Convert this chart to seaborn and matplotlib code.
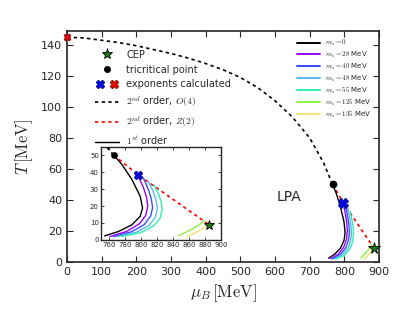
import numpy as np
import pandas as pd
import matplotlib
matplotlib.use("Agg")
import matplotlib.pyplot as plt
import seaborn as sns
from matplotlib.lines import Line2D
from matplotlib.legend_handler import HandlerTuple

sns.set_style("ticks")
plt.rcParams['font.family'] = ['DejaVu Sans']
plt.rcParams['mathtext.fontset'] = 'cm'
plt.rcParams['xtick.direction'] = 'in'
plt.rcParams['ytick.direction'] = 'in'

# ---- data ----
o4_mu = [0, 50, 100, 150, 200, 250, 300, 350, 400, 450, 500, 550, 600, 650, 700, 740, 766]
o4_T = [145, 144.5, 143, 141.5, 139.5, 137, 134.5, 131.5, 128, 124, 119, 112.5, 104, 93.5, 80, 64, 50]

z2_mu = [766, 796, 885]
z2_T = [50, 38.5, 9]

ms_labels = [r"$m_s=0$", r"$m_s=28$ MeV", r"$m_s=40$ MeV", r"$m_s=48$ MeV",
             r"$m_s=55$ MeV", r"$m_s=125$ MeV", r"$m_s=135$ MeV"]
ms_colors = ["black", "#9a00ff", "#3a4cff", "#5cb8f0", "#2ef0b0", "#8cf040", "#f4e070"]

fo_mu_0 = [766, 776, 788.6, 799, 802, 799, 788.6, 772, 754.6]
fo_T_0 = [50, 44.6, 35.7, 25.8, 18.8, 13.9, 8.9, 5.0, 2.4]
fo_mu_28 = [796, 803, 807, 808.5, 806, 798, 782, 761]
fo_T_28 = [38.1, 31, 25, 20, 14.5, 9.5, 5, 2]
fo_mu_40 = [803, 809, 813, 814.5, 812, 804, 788, 766]
fo_T_40 = [36.5, 30, 24, 19, 14, 9, 4.8, 2]
fo_mu_48 = [809, 815, 819, 820.5, 818, 810, 794, 771]
fo_T_48 = [34.6, 29, 23, 18.5, 13.5, 8.5, 4.5, 2]
fo_mu_55 = [816, 822, 825.5, 826.5, 824, 816, 800, 776]
fo_T_55 = [32.6, 27, 22, 18, 13, 8.3, 4.3, 2]
fo_mu_125 = [847, 856, 866, 874, 879]
fo_T_125 = [2.5, 4.5, 7, 9.3, 11.3]
fo_mu_135 = [857, 866, 874, 880, 884]
fo_T_135 = [2, 3.8, 5.8, 7.8, 9.5]

fo_mu = [fo_mu_0, fo_mu_28, fo_mu_40, fo_mu_48, fo_mu_55, fo_mu_125, fo_mu_135]
fo_T = [fo_T_0, fo_T_28, fo_T_40, fo_T_48, fo_T_55, fo_T_125, fo_T_135]

cep = (885, 9)
tcp = (766, 50)
exp_blue = (796, 38.1)
exp_red = (0, 145)

fig = plt.figure(figsize=(3.99, 3.10), dpi=100)
ax = fig.add_axes([0.168, 0.155, 0.782, 0.745])
axin = fig.add_axes([0.253, 0.226, 0.301, 0.301])


def draw(a, ms_scale=1.0, lw=1.0):
    sns.lineplot(x=o4_mu, y=o4_T, ax=a, color="black", sort=False, estimator=None,
                 linestyle=(0, (2, 2)), linewidth=1.2)
    sns.lineplot(x=z2_mu, y=z2_T, ax=a, color="red", sort=False, estimator=None,
                 linestyle=(0, (2, 2)), linewidth=1.2)
    for mu, T, c in zip(fo_mu, fo_T, ms_colors):
        sns.lineplot(x=mu, y=T, ax=a, color=c, sort=False, estimator=None, linewidth=lw)
    a.plot([tcp[0]], [tcp[1]], 'o', color='black', ms=4.5 * ms_scale, zorder=5)
    a.plot([exp_blue[0]], [exp_blue[1]], 'X', color='blue', mec='#1010a0', ms=6.5 * ms_scale, zorder=5)
    a.plot([exp_red[0]], [exp_red[1]], 'X', color='red', mec='#a01010', ms=5 * ms_scale, zorder=5, clip_on=False)
    a.plot([cep[0]], [cep[1]], '*', color='#1a7a1a', mec='black', mew=0.6, ms=8.5 * ms_scale, zorder=6, clip_on=False)


draw(ax, 1.0, 1.0)
ax.set_xlim(0, 900)
ax.set_ylim(0, 149)
ax.set_xticks(np.arange(0, 901, 100))
ax.set_yticks(np.arange(0, 141, 20))
ax.tick_params(labelsize=8, top=True, right=True, length=4, width=0.8)
ax.set_xlabel(r"$\mu_B\,[\mathrm{MeV}]$", fontsize=12)
ax.set_ylabel(r"$T\,[\mathrm{MeV}]$", fontsize=12)
for s in ax.spines.values():
    s.set_linewidth(1.2)
ax.text(641, 42, "LPA", fontsize=10, ha='center', va='center')

draw(axin, 0.85, 1.0)
axin.set_xlim(750, 900)
axin.set_ylim(0, 55)
axin.set_xticks(np.arange(760, 901, 20))
axin.set_yticks(np.arange(0, 51, 10))
axin.tick_params(labelsize=5, top=True, right=True, length=2.5, width=0.6, pad=1.5)
for s in axin.spines.values():
    s.set_linewidth(1.0)

# legend 1
h_cep = Line2D([], [], marker='*', color='#1a7a1a', mec='black', mew=0.6, ms=8, linestyle='None')
h_tcp = Line2D([], [], marker='o', color='black', ms=4, linestyle='None')
h_xb = Line2D([], [], marker='X', color='blue', mec='#1010a0', ms=6, linestyle='None')
h_xr = Line2D([], [], marker='X', color='red', mec='#a01010', ms=6, linestyle='None')
h_o4 = Line2D([], [], color='black', linestyle=(0, (2, 2)), linewidth=1.2)
h_z2 = Line2D([], [], color='red', linestyle=(0, (2, 2)), linewidth=1.2)
h_fo = Line2D([], [], color='black', linewidth=1.0)
leg1 = ax.legend([h_cep, h_tcp, (h_xb, h_xr), h_o4, h_z2, h_fo],
                 ["CEP", "tricritical point", "exponents calculated",
                  r"$2^{nd}$ order, $O(4)$", r"$2^{nd}$ order, $Z(2)$", r"$1^{st}$ order"],
                 handler_map={tuple: HandlerTuple(ndivide=None, pad=0.6)},
                 loc='upper left', bbox_to_anchor=(0.075, 0.94), frameon=False,
                 fontsize=7, handlelength=2.4, labelspacing=0.5, handletextpad=0.8, borderpad=0)
ax.add_artist(leg1)

hs = [Line2D([], [], color=c, linewidth=1.4) for c in ms_colors]
leg2 = ax.legend(hs, ms_labels, loc='upper left', bbox_to_anchor=(0.725, 0.985), frameon=False,
                 fontsize=5, handlelength=3.3, labelspacing=0.25, handletextpad=0.8, borderpad=0)

fig.savefig("out.png", dpi=100)
